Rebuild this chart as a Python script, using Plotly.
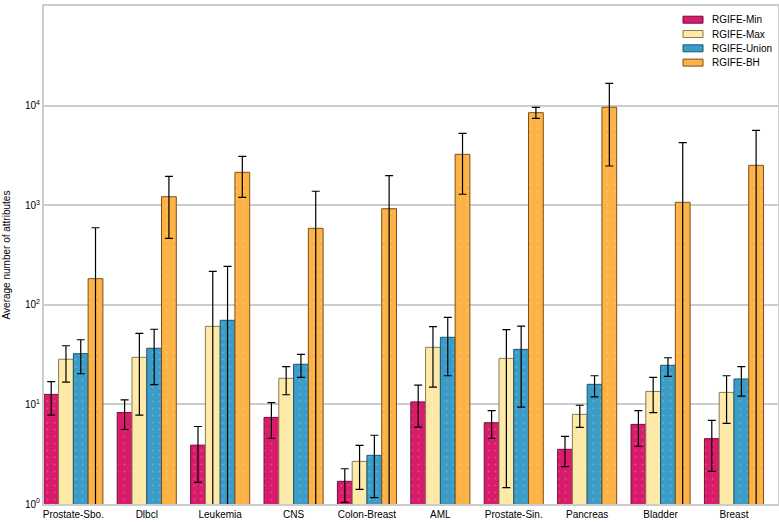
import plotly.graph_objects as go

categories = ["Prostate-Sbo.", "Dlbcl", "Leukemia", "CNS", "Colon-Breast",
              "AML", "Prostate-Sin.", "Pancreas", "Bladder", "Breast"]

series_names = ["RGIFE-Min", "RGIFE-Max", "RGIFE-Union", "RGIFE-BH"]

min_mean = [12.6, 8.3, 3.9, 7.4, 1.69, 10.6, 6.55, 3.54, 6.3, 4.53]
min_high = [16.9, 11.1, 6.0, 10.4, 2.26, 15.6, 8.65, 4.78, 8.65, 6.92]
min_low = [7.8, 5.6, 1.65, 4.57, 1.04, 5.9, 4.57, 2.37, 3.8, 2.13]

max_mean = [28.4, 29.7, 60.8, 18.3, 2.68, 37.4, 29.0, 7.95, 13.5, 13.2]
max_high = [38.8, 51.7, 217, 23.9, 3.88, 60.3, 56.3, 9.8, 18.7, 19.4]
max_low = [16.7, 7.8, 0.1, 12.5, 1.40, 14.9, 1.46, 5.89, 8.26, 6.46]

union_mean = [32.3, 36.6, 69.9, 25.3, 3.08, 47.2, 35.7, 15.9, 24.7, 18.0]
union_high = [44.6, 56.8, 243, 31.8, 4.9, 74.9, 61.2, 19.4, 29.4, 23.9]
union_low = [20.3, 15.8, 0.1, 18.7, 1.16, 19.4, 9.4, 11.9, 19.1, 12.1]

bh_mean = [183, 1217, 2138, 586, 922, 3240, 8490, 9620, 1069, 2514]
bh_high = [594, 1950, 3093, 1380, 1978, 5250, 9620, 16740, 4245, 5650]
bh_low = [0.1, 465, 1200, 0.1, 0.1, 1288, 7450, 2475, 0.1, 0.1]

ytick_vals = [1, 10, 100, 1000, 10000, 100000]
ytick_text = ["10<sup>0</sup>", "10<sup>1</sup>", "10<sup>2</sup>",
              "10<sup>3</sup>", "10<sup>4</sup>", "10<sup>5</sup>"]

colors = ["#d81b6b", "#fde9a8", "#3b9cc8", "#fcb245"]
outlines = ["#6e1037", "#8a7a50", "#1f5670", "#7a5018"]

data = [(min_mean, min_high, min_low), (max_mean, max_high, max_low),
        (union_mean, union_high, union_low), (bh_mean, bh_high, bh_low)]

W, H = 779, 522

fig = go.Figure()
for name, (m, hi, lo), c, oc in zip(series_names, data, colors, outlines):
    fig.add_trace(go.Bar(
        name=name, x=categories, y=m, showlegend=False,
        marker=dict(color=c, line=dict(color=oc, width=1),
                    pattern=dict(shape=".", fgcolor="rgba(255,255,255,0.45)",
                                 size=7, solidity=0.06)),
        error_y=dict(type="data", symmetric=False,
                     array=[h - v for h, v in zip(hi, m)],
                     arrayminus=[v - l for v, l in zip(m, lo)],
                     color="black", thickness=1.2, width=4),
    ))

# manual legend (compact spacing like the reference)
shapes = []
annotations = []
for i, (name, c, oc) in enumerate(zip(series_names, colors, outlines)):
    cy = 19.7 + i * 14.3
    shapes.append(dict(type="rect", xref="paper", yref="paper",
                       x0=(683 - 44) / (W - 45), x1=(703 - 44) / (W - 45),
                       y0=(504 - (cy + 3.5)) / 498, y1=(504 - (cy - 3.5)) / 498,
                       fillcolor=c, line=dict(color=oc, width=1)))
    annotations.append(dict(xref="paper", yref="paper",
                            x=(710 - 44) / (W - 45), y=(504 - cy) / 498,
                            xanchor="left", yanchor="middle", showarrow=False,
                            text=name, font=dict(size=10, color="black")))

fig.update_layout(
    width=W, height=H,
    margin=dict(l=44, r=1, t=6, b=18),
    paper_bgcolor="white", plot_bgcolor="white",
    barmode="group", bargap=0.195, bargroupgap=0,
    font=dict(family="Liberation Sans, Arial, sans-serif", size=10, color="black"),
    showlegend=False,
    shapes=shapes, annotations=annotations,
)
fig.update_xaxes(range=[-0.4, 9.6], showgrid=False, showline=True,
                 linecolor="#cccccc", linewidth=2, mirror=True, ticks="",
                 tickfont=dict(size=10), automargin=False)
fig.update_yaxes(type="log", range=[0, 5], tickvals=ytick_vals, ticktext=ytick_text,
                 showgrid=True, gridcolor="#cccccc", gridwidth=2,
                 showline=True, linecolor="#cccccc", linewidth=2, mirror=True,
                 ticks="", tickfont=dict(size=10), automargin=False,
                 title=dict(text="Average number of attributes", font=dict(size=10),
                            standoff=12))

fig.write_html("out.html", config={"displayModeBar": False},
               post_script="document.body.style.margin='0';document.body.style.overflow='hidden';")
